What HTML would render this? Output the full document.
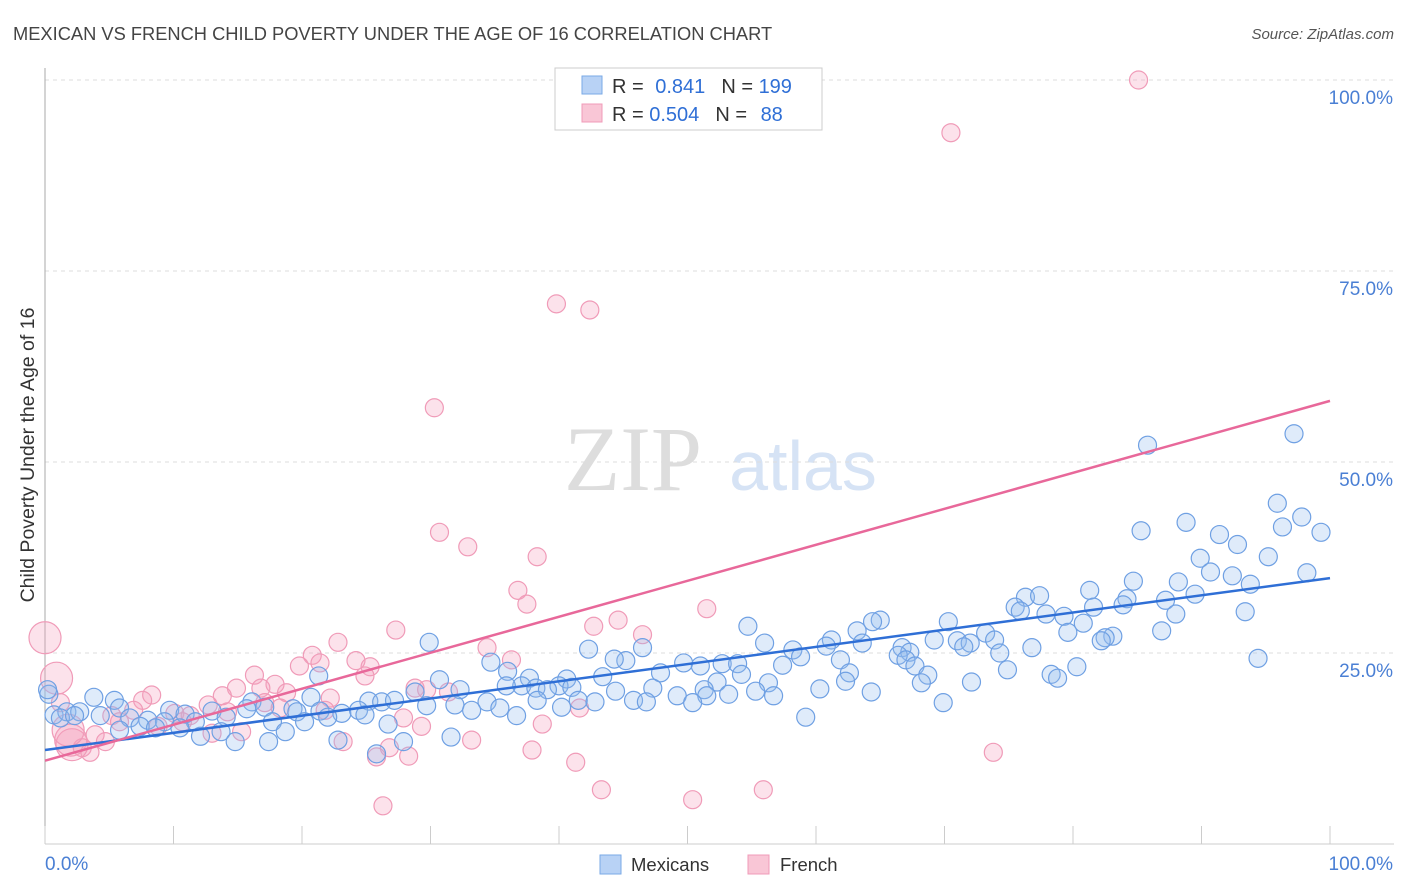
<!DOCTYPE html>
<html><head><meta charset="utf-8"><style>
body{margin:0;background:#fff;font-family:"Liberation Sans",sans-serif}
svg{display:block}
</style></head><body>
<svg id="chart" width="1406" height="892" viewBox="0 0 1406 892">
<text x="13" y="40" font-size="18.3" fill="#444">MEXICAN VS FRENCH CHILD POVERTY UNDER THE AGE OF 16 CORRELATION CHART</text>
<text x="1394" y="39" font-size="15" fill="#555" text-anchor="end" font-style="italic">Source: ZipAtlas.com</text>
<g>
<text x="633" y="490" font-size="92" fill="#ddd" text-anchor="middle" font-family="Liberation Serif,serif">ZIP</text>
<text x="803" y="490" font-size="70" fill="#d6e3f5" text-anchor="middle">atlas</text>
</g>
<g id="grid"></g>
<g id="axes"></g>
<g id="marks"></g>
<text transform="translate(34,455) rotate(-90)" font-size="19.5" fill="#333" text-anchor="middle">Child Poverty Under the Age of 16</text>
<g>
<rect x="555" y="68" width="267" height="62" fill="#fff" stroke="#ccc"/>
<rect x="582" y="76" width="20" height="18" fill="#b8d2f5" stroke="#7aa9e6"/>
<rect x="582" y="104" width="20" height="18" fill="#f9c6d6" stroke="#f09bb8"/>
<text x="612" y="93" font-size="20" fill="#333">R = <tspan fill="#2f6fd6" dx="6">0.841</tspan><tspan dx="16">N = </tspan><tspan fill="#2f6fd6">199</tspan></text>
<text x="612" y="121" font-size="20" fill="#333">R = <tspan fill="#2f6fd6">0.504</tspan><tspan dx="16">N = </tspan><tspan fill="#2f6fd6" dx="8">88</tspan></text>
</g>
<g>
<rect x="600" y="855" width="21" height="19" fill="#b8d2f5" stroke="#7aa9e6"/>
<text x="631" y="871" font-size="18.5" fill="#333">Mexicans</text>
<rect x="748" y="855" width="21" height="19" fill="#f9c6d6" stroke="#f09bb8"/>
<text x="780" y="871" font-size="18.5" fill="#333">French</text>
</g>
</svg>
<script>
const yTicks=[25,50,75,100];
const yTickLabels=["25.0%","50.0%","75.0%","100.0%"];
const xTicks=[0,10,20,30,40,50,60,70,80,90,100];
const blueLine=[12.3,34.8];
const pinkLine=[10.9,58.0];
const bluePts=[[97.2,53.7],[85.8,52.2],[95.9,44.6],[97.8,42.8],[88.8,42.1],[96.3,41.5],[99.3,40.8],[85.3,41.0],[91.4,40.5],[92.8,39.2],[95.2,37.6],[89.9,37.4],[98.2,35.5],[90.7,35.6],[92.4,35.1],[84.7,34.4],[88.2,34.3],[93.8,34.0],[81.3,33.2],[76.3,32.3],[77.4,32.5],[89.5,32.7],[87.2,31.9],[84.2,32.1],[75.5,31.0],[83.9,31.3],[81.6,31.0],[75.9,30.5],[88.0,30.1],[77.9,30.1],[93.4,30.4],[79.3,29.8],[80.8,28.9],[65.0,29.3],[64.4,29.1],[70.3,29.1],[54.7,28.5],[86.9,27.9],[79.6,27.7],[63.2,27.9],[73.2,27.6],[83.1,27.2],[82.5,27.0],[61.2,26.7],[69.2,26.7],[56.0,26.3],[60.8,25.9],[71.0,26.6],[72.0,26.3],[73.9,26.7],[82.2,26.6],[71.5,25.8],[66.7,25.7],[63.6,26.3],[29.9,26.4],[46.5,25.7],[42.3,25.5],[58.2,25.4],[67.3,25.1],[66.4,24.7],[74.3,25.0],[76.8,25.7],[94.4,24.3],[67.0,24.1],[61.9,24.1],[58.8,24.5],[45.2,24.0],[44.3,24.2],[34.7,23.8],[49.7,23.7],[52.7,23.6],[53.9,23.6],[67.7,23.3],[57.4,23.4],[51.0,23.3],[80.3,23.2],[74.9,22.8],[36.0,22.6],[47.9,22.4],[54.2,22.2],[78.3,22.2],[62.6,22.4],[68.7,22.1],[78.8,21.7],[21.3,22.0],[43.4,21.9],[37.7,21.7],[40.6,21.6],[30.7,21.5],[52.3,21.2],[62.3,21.3],[68.2,21.1],[56.3,21.1],[72.1,21.2],[37.1,20.7],[38.2,20.4],[35.9,20.7],[40.0,20.7],[41.0,20.5],[39.1,20.2],[60.3,20.3],[47.3,20.4],[51.3,20.2],[55.3,20.0],[32.3,20.2],[64.3,19.9],[28.8,19.9],[44.4,20.0],[49.2,19.4],[51.5,19.4],[53.2,19.6],[56.7,19.4],[3.8,19.2],[5.4,18.8],[20.7,19.2],[25.2,18.7],[26.2,18.6],[27.2,18.8],[34.4,18.6],[38.3,18.8],[41.5,18.8],[42.8,18.6],[45.8,18.8],[46.8,18.6],[50.4,18.5],[16.1,18.6],[69.9,18.5],[0.3,19.6],[29.7,18.1],[31.9,18.2],[33.2,17.5],[35.4,17.8],[40.2,17.9],[5.8,17.8],[9.7,17.5],[15.7,17.7],[17.1,17.9],[19.3,17.7],[19.6,17.3],[21.4,17.4],[23.1,17.1],[24.4,17.5],[24.9,16.9],[10.9,17.0],[13.0,17.4],[14.1,16.6],[22.0,16.6],[36.7,16.8],[59.2,16.6],[0.7,16.9],[1.7,17.3],[2.7,17.3],[4.3,16.8],[6.6,16.5],[8.0,16.2],[9.3,16.0],[11.7,16.0],[17.7,16.0],[20.2,16.0],[26.7,15.7],[7.4,15.4],[8.6,15.2],[10.5,15.2],[5.8,14.9],[13.7,14.7],[18.7,14.7],[12.1,14.1],[31.6,14.0],[22.8,13.6],[14.8,13.4],[17.4,13.4],[27.9,13.4],[25.8,11.8],[0.2,20.2],[1.2,16.5],[2.3,16.8]];
const pinkPts=[[85.1,100],[70.5,93.1],[39.8,70.7],[42.4,69.9],[30.3,57.1],[30.7,40.8],[32.9,38.9],[38.3,37.6],[36.8,33.2],[37.5,31.4],[51.5,30.8],[44.6,29.3],[42.7,28.5],[46.5,27.4],[27.3,28.0],[22.8,26.4],[34.4,25.7],[20.8,24.7],[21.4,23.7],[24.2,24.0],[25.3,23.2],[19.8,23.3],[36.3,24.1],[16.3,22.1],[24.9,22.0],[17.9,20.9],[14.9,20.4],[16.8,20.4],[28.8,20.4],[29.7,20.2],[18.8,19.8],[13.8,19.4],[8.3,19.5],[7.6,18.8],[22.2,19.1],[31.4,19.9],[17.1,18.5],[12.7,18.2],[14.2,17.3],[10.1,17.1],[6.9,17.5],[5.2,16.8],[41.6,17.8],[27.9,16.5],[10.7,16.0],[8.8,15.4],[5.8,16.0],[38.7,15.7],[29.3,15.4],[13.0,14.5],[15.3,14.7],[3.9,14.3],[4.7,13.4],[2.0,13.6],[2.9,12.6],[3.5,12.0],[23.2,13.4],[33.2,13.6],[26.8,12.6],[37.9,12.3],[25.8,11.4],[28.3,11.5],[41.3,10.7],[73.8,12.0],[43.3,7.1],[55.9,7.1],[50.4,5.8],[26.3,5.0],[0,27.0],[0.9,21.7],[1.2,18.5],[2.1,13.0],[1.8,14.9],[18.3,17.8],[11.3,16.8],[21.8,17.5]];
const X=v=>45+v*12.85, Y=v=>844-v*7.64;
const NS="http://www.w3.org/2000/svg";
function mk(t,a,p){const e=document.createElementNS(NS,t);for(const k in a)e.setAttribute(k,a[k]);p.appendChild(e);return e;}
const grid=document.getElementById('grid'),axes=document.getElementById('axes'),marks=document.getElementById('marks');
yTicks.forEach((t,i)=>{
 const l=mk('line',{x1:45,x2:1394,y1:Y(t),y2:Y(t),stroke:'#ddd','stroke-dasharray':'4,4'},grid);
 
 
 const tx=mk('text',{x:1393,y:Y(t)+24,'font-size':19,fill:'#4a7fd4','text-anchor':'end'},axes);
 tx.textContent=yTickLabels[i];
 
 
});
const ax=mk('line',{x1:45,x2:45,y1:68,y2:844,stroke:'#aaa'},axes);


const bx=mk('line',{x1:45,x2:1394,y1:844,y2:844,stroke:'#ccc'},axes);


xTicks.forEach(t=>{const l=mk('line',{x1:X(t),x2:X(t),y1:826,y2:844,stroke:'#ccc'},axes);
 
 });
[["0.0%",45,"start"],["100.0%",1393,"end"]].forEach(d=>{const t=mk('text',{x:d[1],y:870,'font-size':19,fill:'#4a7fd4','text-anchor':d[2]},axes);t.textContent=d[0];
 
 });
pinkPts.forEach(p=>{const r=p[0]<2.5&&(p[1]>20||p[1]<15)?16:9;const c=mk('circle',{cx:X(p[0]),cy:Y(p[1]),r:r,fill:'rgba(245,160,190,0.3)',stroke:'#f09bb8','stroke-width':1.2},marks);
 
 });
bluePts.forEach(p=>{const c=mk('circle',{cx:X(p[0]),cy:Y(p[1]),r:9,fill:'rgba(150,190,240,0.3)',stroke:'#6fa0e3','stroke-width':1.2},marks);
 
 });
const bl=mk('line',{x1:X(0),y1:Y(blueLine[0]),x2:X(100),y2:Y(blueLine[1]),stroke:'#2f6fd6','stroke-width':2.5},marks);


const pl=mk('line',{x1:X(0),y1:Y(pinkLine[0]),x2:X(100),y2:Y(pinkLine[1]),stroke:'#e8689a','stroke-width':2.5},marks);


</script>
</body></html>
